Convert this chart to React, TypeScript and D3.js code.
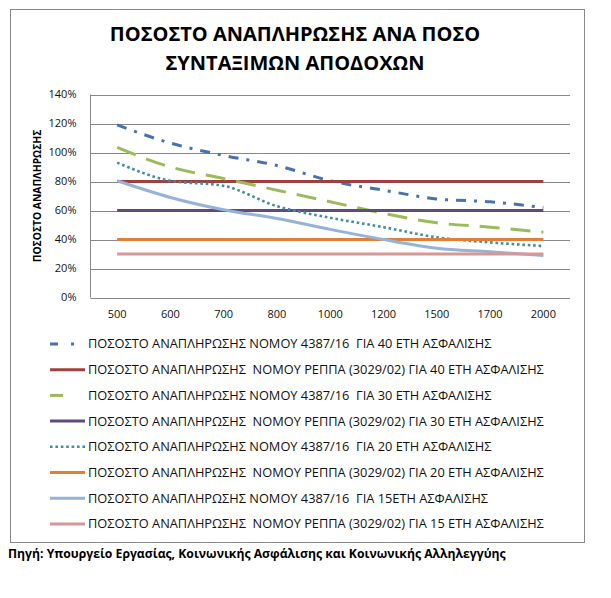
import React, { useRef, useEffect } from "react";
import * as d3 from "d3";

// x categories: pensionable earnings (€)
const incomes = ["500", "600", "700", "800", "1000", "1200", "1500", "1700", "2000"];

// replacement rates (%)
const law4387For40 = [119, 106.5, 98, 91, 80.5, 74, 68, 66, 62];
const reppaFor40 = [80, 80, 80, 80, 80, 80, 80, 80, 80];
const law4387For30 = [103.5, 90, 82, 74, 66, 58, 51.5, 48.5, 45];
const reppaFor30 = [60, 60, 60, 60, 60, 60, 60, 60, 60];
const law4387For20 = [93, 80.5, 77, 63, 55, 48.5, 41.5, 38, 35.5];
const reppaFor20 = [40, 40, 40, 40, 40, 40, 40, 40, 40];
const law4387For15 = [80.5, 69, 60.5, 54.5, 47, 40, 34, 31.5, 29];
const reppaFor15 = [30, 30, 30, 30, 30, 30, 30, 30, 30];

const yTicks = [0, 20, 40, 60, 80, 100, 120, 140];

const seriesNames = [
  "ΠΟΣΟΣΤΟ ΑΝΑΠΛΗΡΩΣΗΣ ΝΟΜΟΥ 4387/16  ΓΙΑ 40 ΕΤΗ ΑΣΦΑΛΙΣΗΣ",
  "ΠΟΣΟΣΤΟ ΑΝΑΠΛΗΡΩΣΗΣ  ΝΟΜΟΥ ΡΕΠΠΑ (3029/02) ΓΙΑ 40 ΕΤΗ ΑΣΦΑΛΙΣΗΣ",
  "ΠΟΣΟΣΤΟ ΑΝΑΠΛΗΡΩΣΗΣ ΝΟΜΟΥ 4387/16  ΓΙΑ 30 ΕΤΗ ΑΣΦΑΛΙΣΗΣ",
  "ΠΟΣΟΣΤΟ ΑΝΑΠΛΗΡΩΣΗΣ  ΝΟΜΟΥ ΡΕΠΠΑ (3029/02) ΓΙΑ 30 ΕΤΗ ΑΣΦΑΛΙΣΗΣ",
  "ΠΟΣΟΣΤΟ ΑΝΑΠΛΗΡΩΣΗΣ ΝΟΜΟΥ 4387/16  ΓΙΑ 20 ΕΤΗ ΑΣΦΑΛΙΣΗΣ",
  "ΠΟΣΟΣΤΟ ΑΝΑΠΛΗΡΩΣΗΣ  ΝΟΜΟΥ ΡΕΠΠΑ (3029/02) ΓΙΑ 20 ΕΤΗ ΑΣΦΑΛΙΣΗΣ",
  "ΠΟΣΟΣΤΟ ΑΝΑΠΛΗΡΩΣΗΣ ΝΟΜΟΥ 4387/16  ΓΙΑ 15ΕΤΗ ΑΣΦΑΛΙΣΗΣ",
  "ΠΟΣΟΣΤΟ ΑΝΑΠΛΗΡΩΣΗΣ  ΝΟΜΟΥ ΡΕΠΠΑ (3029/02) ΓΙΑ 15 ΕΤΗ ΑΣΦΑΛΙΣΗΣ",
];

const seriesValues = [
  law4387For40, reppaFor40, law4387For30, reppaFor30,
  law4387For20, reppaFor20, law4387For15, reppaFor15,
];

// legendDash: the short sample Excel draws in the legend
const seriesStyles = [
  { color: "#4672ad", dash: "10,8,3,8", legendDash: "8,13,3,20", width: 3 },
  { color: "#a0403e", dash: null, legendDash: null, width: 3 },
  { color: "#9bbb59", dash: "20,11", legendDash: "13,30", width: 3 },
  { color: "#5f4b7e", dash: null, legendDash: null, width: 3 },
  { color: "#3f8ea4", dash: "2.6,2.8", legendDash: "2.6,2.8", width: 2.6 },
  { color: "#e27e38", dash: null, legendDash: null, width: 3 },
  { color: "#95b3d7", dash: null, legendDash: null, width: 3 },
  { color: "#d99694", dash: null, legendDash: null, width: 3 },
];

const FONT = "'Open Sans', 'Noto Sans', sans-serif";

export default function App() {
  const svgRef = useRef<SVGSVGElement | null>(null);

  useEffect(() => {
    document.body.style.margin = "0";

    const width = 611;
    const height = 598;
    const plot = { left: 90.5, right: 570, top: 94.5, bottom: 297.5 };

    const svg = d3.select(svgRef.current);
    svg.selectAll("*").remove();
    svg.attr("width", width).attr("height", height).style("font-family", FONT);

    svg.append("rect").attr("width", width).attr("height", height).attr("fill", "#fff");

    // chart frame
    svg.append("rect")
      .attr("x", 10.5)
      .attr("y", 9.5)
      .attr("width", 574)
      .attr("height", 533)
      .attr("fill", "none")
      .attr("stroke", "#888");

    // title
    const title = svg.append("text")
      .attr("text-anchor", "middle")
      .attr("font-size", 20)
      .attr("font-weight", 700)
      .attr("fill", "#000");
    title.append("tspan").attr("x", 295).attr("y", 41).text("ΠΟΣΟΣΤΟ ΑΝΑΠΛΗΡΩΣΗΣ ΑΝΑ ΠΟΣΟ");
    title.append("tspan").attr("x", 295).attr("y", 70).text("ΣΥΝΤΑΞΙΜΩΝ ΑΠΟΔΟΧΩΝ");

    const x = d3.scaleBand<string>()
      .domain(incomes)
      .range([plot.left, plot.right]);

    const y = d3.scaleLinear()
      .domain([0, 140])
      .range([plot.bottom, plot.top]);

    // gridlines
    svg.append("g")
      .selectAll("line")
      .data(yTicks)
      .enter()
      .append("line")
      .attr("x1", plot.left)
      .attr("x2", plot.right)
      .attr("y1", d => Math.round(y(d)) + 0.5)
      .attr("y2", d => Math.round(y(d)) + 0.5)
      .attr("stroke", "#888")
      .attr("stroke-width", 1);

    // left axis line
    svg.append("line")
      .attr("x1", plot.left)
      .attr("x2", plot.left)
      .attr("y1", plot.top)
      .attr("y2", plot.bottom)
      .attr("stroke", "#888");

    // y tick labels
    svg.append("g")
      .selectAll("text")
      .data(yTicks)
      .enter()
      .append("text")
      .attr("x", 76.5)
      .attr("y", d => y(d))
      .attr("dy", "0.35em")
      .attr("text-anchor", "end")
      .attr("font-size", 11)
      .attr("fill", "#111")
      .text(d => `${d}%`);

    // x tick labels
    svg.append("g")
      .selectAll("text")
      .data(incomes)
      .enter()
      .append("text")
      .attr("x", d => (x(d) as number) + x.bandwidth() / 2)
      .attr("y", 314)
      .attr("dy", "0.35em")
      .attr("text-anchor", "middle")
      .attr("font-size", 11)
      .attr("fill", "#111")
      .text(d => d);

    // y axis title
    svg.append("text")
      .attr("transform", `translate(41,${(plot.top + plot.bottom) / 2}) rotate(-90)`)
      .attr("text-anchor", "middle")
      .attr("font-size", 10.3)
      .attr("font-weight", 700)
      .attr("fill", "#000")
      .text("ΠΟΣΟΣΤΟ ΑΝΑΠΛΗΡΩΣΗΣ");

    // series lines
    const line = d3.line<number>()
      .x((_, i) => (x(incomes[i]) as number) + x.bandwidth() / 2)
      .y(d => y(d))
      .curve(d3.curveMonotoneX);

    seriesValues.forEach((values, i) => {
      const st = seriesStyles[i];
      svg.append("path")
        .datum(values)
        .attr("fill", "none")
        .attr("stroke", st.color)
        .attr("stroke-width", st.width)
        .attr("stroke-dasharray", st.dash)
        .attr("d", line);
    });

    // legend
    const legend = svg.append("g");
    seriesNames.forEach((name, i) => {
      const st = seriesStyles[i];
      const cy = 344 + i * 25.7;
      legend.append("line")
        .attr("x1", 50)
        .attr("x2", 85)
        .attr("y1", cy)
        .attr("y2", cy)
        .attr("stroke", st.color)
        .attr("stroke-width", st.width)
        .attr("stroke-dasharray", st.legendDash);
      legend.append("text")
        .attr("x", 88)
        .attr("y", cy)
        .attr("dy", "0.35em")
        .attr("font-size", 12.8)
        .attr("fill", "#111")
        .style("white-space", "pre")
        .text(name);
    });

    // source note
    svg.append("text")
      .attr("x", 8)
      .attr("y", 558)
      .attr("font-size", 12.2)
      .attr("font-weight", 700)
      .attr("fill", "#000")
      .text("Πηγή: Υπουργείο Εργασίας, Κοινωνικής Ασφάλισης και Κοινωνικής Αλληλεγγύης");
  }, []);

  return <svg ref={svgRef}></svg>;
}
